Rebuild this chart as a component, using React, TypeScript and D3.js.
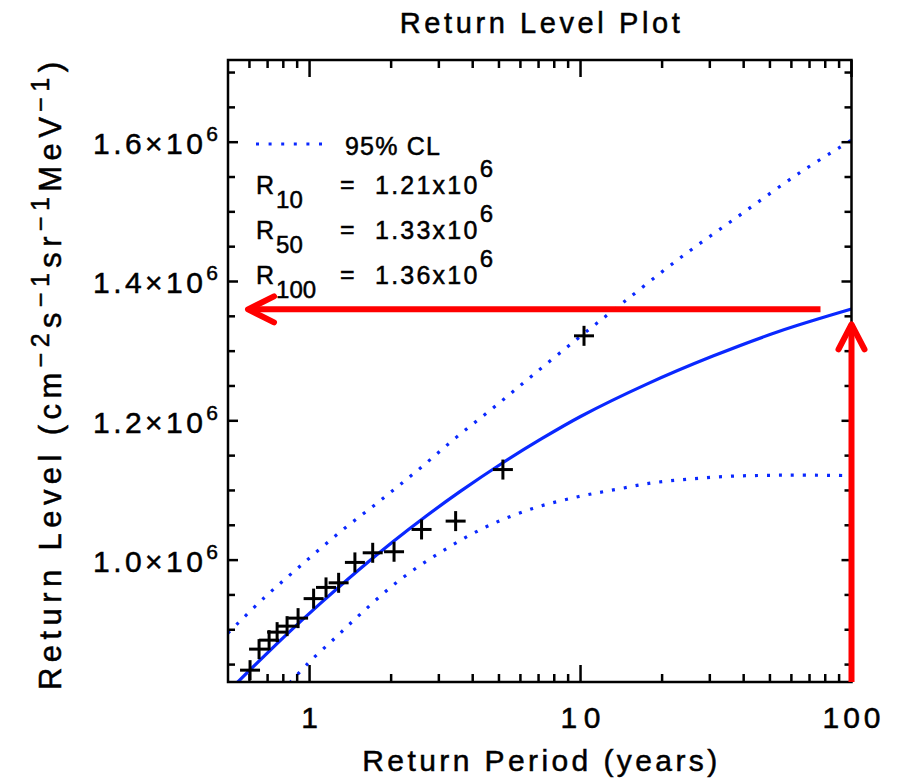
import React from "react";
import * as d3 from "d3";

// Empirical return levels (plotting positions)
const obsPeriod = [10.3, 5.17, 3.46, 2.59, 2.05, 1.71, 1.47, 1.28, 1.15, 1.035, 0.907, 0.826, 0.759, 0.709, 0.651, 0.603];
const obsLevel = [1.322e6, 1.130e6, 1.056e6, 1.044e6, 1.012e6, 1.0105e6, 0.9967e6, 0.9674e6, 0.9608e6, 0.9447e6, 0.9167e6, 0.9052e6, 0.8966e6, 0.8851e6, 0.8722e6, 0.842e6];

// Fitted GEV return level curve
const fitPeriod = [0.538, 0.82, 1.089, 1.529, 2.03, 2.696, 3.577, 5.168, 7.06, 10, 17.48, 30.8, 54.2, 100];
const fitLevel = [0.8234e6, 0.8927e6, 0.9368e6, 0.9869e6, 1.0263e6, 1.0633e6, 1.0979e6, 1.1398e6, 1.1725e6, 1.2062e6, 1.2523e6, 1.2929e6, 1.3285e6, 1.3604e6];

// 95% confidence limits
const upperPeriod = [0.5, 0.682, 0.932, 1.298, 1.813, 2.51, 3.477, 4.816, 6.668, 9.77, 14.13, 23.2, 39.2, 65.2, 100];
const upperLevel = [0.8952e6, 0.9464e6, 0.9928e6, 1.0406e6, 1.0847e6, 1.1292e6, 1.1762e6, 1.2201e6, 1.2656e6, 1.3183e6, 1.3676e6, 1.4332e6, 1.4968e6, 1.5575e6, 1.603e6];
const lowerPeriod = [0.844, 0.986, 1.237, 1.573, 2.148, 3.062, 4.487, 6.67, 9.77, 13.54, 18.49, 25.25, 34.5, 47.1, 64.3, 100];
const lowerLevel = [0.8234e6, 0.8517e6, 0.8876e6, 0.9258e6, 0.9713e6, 1.0119e6, 1.0478e6, 1.0742e6, 1.0909e6, 1.1015e6, 1.111e6, 1.1163e6, 1.1202e6, 1.1216e6, 1.122e6, 1.1213e6];

const xTickValues = [1, 10, 100];
const xTickLabels = ["1", "10", "100"];
const xTickWidths = [13, 40, 58];
const yTickValues = [1.0e6, 1.2e6, 1.4e6, 1.6e6];
const yTickLabels = ["1.0×10", "1.2×10", "1.4×10", "1.6×10"];

const returnLevelNames = ["10", "50", "100"];
const returnLevelTexts = ["1.21x10", "1.33x10", "1.36x10"];
const returnLevelValues = [1.21e6, 1.33e6, 1.36e6];

const W = 899;
const H = 782;
const left = 228;
const right = 851.5;
const top = 60;
const bottom = 682;

const font = "'Liberation Sans', Arial, sans-serif";
const blue = "#0a28ff";

export default function App() {
  const x = d3.scaleLog().domain([0.5, 100]).range([left, right]);
  const y = d3.scaleLinear().domain([0.825e6, 1.718e6]).range([bottom, top]);

  const line = d3
    .line<[number, number]>()
    .x((d) => x(d[0]))
    .y((d) => y(d[1]))
    .curve(d3.curveCatmullRom.alpha(0.5));

  const zip = (a: number[], b: number[]) => a.map((v, i) => [v, b[i]] as [number, number]);

  // minor ticks
  const xMinor: number[] = [];
  [0.1, 1, 10].forEach((dec) => {
    for (let k = 2; k <= 9; k++) {
      const v = dec * k;
      if (v > 0.5 && v < 100 && !xTickValues.includes(v)) xMinor.push(v);
    }
  });
  const yMinor: number[] = [];
  for (let v = 0.85e6; v <= 1.7e6 + 1; v += 0.05e6) {
    if (!yTickValues.some((t) => Math.abs(t - v) < 1)) yMinor.push(v);
  }

  const r100 = returnLevelValues[2];
  const arrowY = y(r100);
  const hStart = x(100) - 31;
  const hTip = left + 20;
  const vTipY = arrowY + 15;
  const vx = x(100);

  const txt = { stroke: "#000", strokeWidth: 0.5 } as const;

  return (
    <svg width={W} height={H} style={{ display: "block", position: "absolute", left: 0, top: 0 }} fontFamily={font}>
      <rect x={0} y={0} width={W} height={H} fill="#fff" />
      <defs>
        <clipPath id="plotArea">
          <rect x={left} y={top} width={right - left} height={bottom - top} />
        </clipPath>
      </defs>

      {/* Title */}
      <text x={(left + right) / 2} y={33} textAnchor="middle" fontSize={29} textLength={280} lengthAdjust="spacing" {...txt}>
        Return Level Plot
      </text>

      {/* Curves */}
      <g clipPath="url(#plotArea)">
        <path d={line(zip(upperPeriod, upperLevel)) || ""} fill="none" stroke={blue} strokeWidth={3.2} strokeDasharray="3 9" />
        <path d={line(zip(lowerPeriod, lowerLevel)) || ""} fill="none" stroke={blue} strokeWidth={3.2} strokeDasharray="3 9" />
        <path d={line(zip(fitPeriod, fitLevel)) || ""} fill="none" stroke={blue} strokeWidth={3.2} />
        {obsPeriod.map((p, i) => {
          const cx = x(p);
          const cy = y(obsLevel[i]);
          return (
            <g key={i} stroke="#000" strokeWidth={3}>
              <line x1={cx - 10} x2={cx + 10} y1={cy} y2={cy} />
              <line x1={cx} x2={cx} y1={cy - 10} y2={cy + 10} />
            </g>
          );
        })}
      </g>

      {/* Frame and ticks */}
      <g stroke="#000" strokeWidth={2.5} fill="none">
        <rect x={left} y={top} width={right - left} height={bottom - top} />
        {xTickValues.map((v) => (
          <g key={"xM" + v}>
            <line x1={x(v)} x2={x(v)} y1={bottom} y2={bottom - 17} />
            <line x1={x(v)} x2={x(v)} y1={top} y2={top + 17} />
          </g>
        ))}
        {xMinor.map((v) => (
          <g key={"xm" + v}>
            <line x1={x(v)} x2={x(v)} y1={bottom} y2={bottom - 8} />
            <line x1={x(v)} x2={x(v)} y1={top} y2={top + 8} />
          </g>
        ))}
        {yTickValues.map((v) => (
          <g key={"yM" + v}>
            <line x1={left} x2={left + 10} y1={y(v)} y2={y(v)} />
            <line x1={right} x2={right - 10} y1={y(v)} y2={y(v)} />
          </g>
        ))}
        {yMinor.map((v) => (
          <g key={"ym" + v}>
            <line x1={left} x2={left + 7} y1={y(v)} y2={y(v)} />
            <line x1={right} x2={right - 7} y1={y(v)} y2={y(v)} />
          </g>
        ))}
      </g>

      {/* X tick labels */}
      {xTickValues.map((v, i) => (
        <text key={"xl" + v} x={x(v)} y={728} textAnchor="middle" fontSize={30} textLength={xTickWidths[i]} lengthAdjust="spacing" {...txt}>
          {xTickLabels[i]}
        </text>
      ))}

      {/* Y tick labels */}
      {yTickValues.map((v, i) => (
        <text key={"yl" + v} x={218} y={y(v) + 12} textAnchor="end" fontSize={30} textLength={125} lengthAdjust="spacing" {...txt}>
          {yTickLabels[i]}
          <tspan fontSize={21} dy={-13}>6</tspan>
        </text>
      ))}

      {/* Axis titles */}
      <text x={(left + right) / 2} y={771} textAnchor="middle" fontSize={30} textLength={355} lengthAdjust="spacing" {...txt}>
        Return Period (years)
      </text>
      <text
        transform={`translate(61, ${(top + bottom) / 2 + 5}) rotate(-90)`}
        textAnchor="middle"
        fontSize={31}
        textLength={628}
        lengthAdjust="spacing"
        {...txt}
      >
        Return Level (cm
        <tspan fontSize={25} dy={-12}>−2</tspan>
        <tspan dy={12}>s</tspan>
        <tspan fontSize={25} dy={-12}>−1</tspan>
        <tspan dy={12}>sr</tspan>
        <tspan fontSize={25} dy={-12}>−1</tspan>
        <tspan dy={12}>MeV</tspan>
        <tspan fontSize={25} dy={-12}>−1</tspan>
        <tspan dy={12}>)</tspan>
      </text>

      {/* Legend */}
      <line x1={256} x2={322} y1={144} y2={144} stroke={blue} strokeWidth={3.2} strokeDasharray="3 9.6" />
      <text x={345} y={155} fontSize={25} textLength={95} lengthAdjust="spacing" {...txt}>95% CL</text>
      {returnLevelNames.map((n, i) => (
        <g key={"rl" + n}>
          <text x={256} y={194 + i * 45} fontSize={25} {...txt}>
            R<tspan fontSize={24} dx={2} dy={14}>{n}</tspan>
          </text>
          <text x={340} y={193 + i * 45} fontSize={25} {...txt}>=</text>
          <text x={375} y={194 + i * 45} fontSize={25} textLength={118} lengthAdjust="spacing" {...txt}>
            {returnLevelTexts[i]}
            <tspan fontSize={24} dy={-17}>6</tspan>
          </text>
        </g>
      ))}

      {/* R100 arrows */}
      <g stroke="#ff0000" strokeWidth={6} fill="none" strokeLinecap="round" strokeLinejoin="round">
        <line x1={hStart} x2={hTip} y1={arrowY} y2={arrowY} strokeLinecap="butt" />
        <polyline points={`${hTip + 26},${arrowY - 13} ${hTip},${arrowY} ${hTip + 26},${arrowY + 13}`} />
        <line x1={vx} x2={vx} y1={bottom} y2={vTipY} strokeLinecap="butt" />
        <polyline points={`${vx - 13},${vTipY + 25} ${vx},${vTipY} ${vx + 13},${vTipY + 25}`} />
      </g>
    </svg>
  );
}
